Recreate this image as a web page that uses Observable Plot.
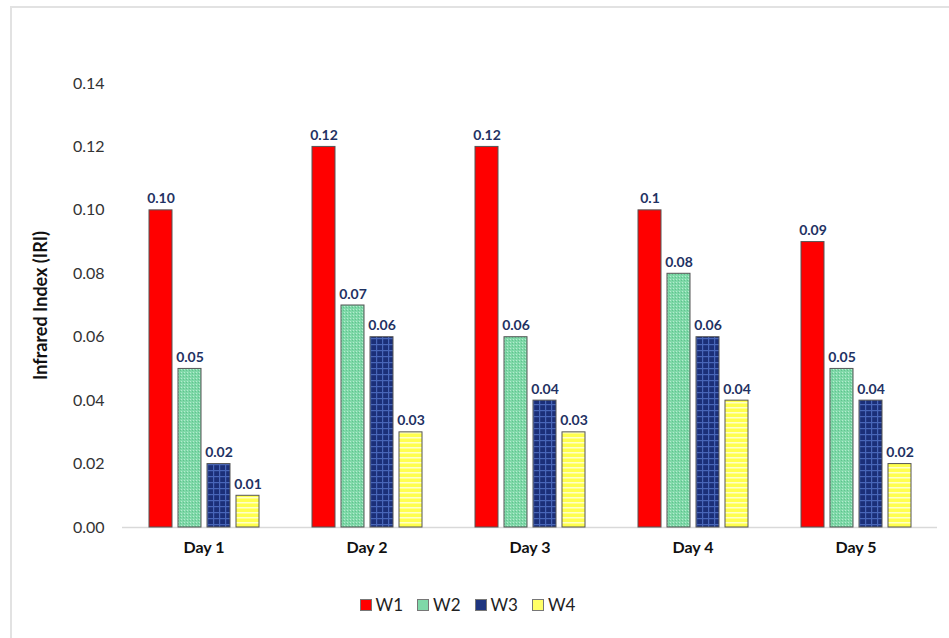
<!DOCTYPE html>
<html>
<head>
<meta charset="utf-8">
<script src="https://cdn.jsdelivr.net/npm/d3@7"></script>
<script src="https://cdn.jsdelivr.net/npm/@observablehq/plot@0.6"></script>
<style>
  html, body { margin: 0; padding: 0; background: #fff; }
  #wrap { position: relative; width: 949px; height: 638px; overflow: hidden; font-family: Lato, "Open Sans", sans-serif; }
  #frame { position: absolute; left: 10px; top: 6px; width: 1000px; height: 700px; border-top: 2px solid #e2e2e2; border-left: 2px solid #e2e2e2; }
  #chart { position: absolute; left: 0; top: 0; }
  #legend { position: absolute; left: 0; width: 935px; top: 594px; display: flex; justify-content: center; gap: 14px; font-size: 17px; color: #222; }
  #legend .item { display: flex; align-items: center; gap: 4px; }
  #legend .sw { width: 10px; height: 10px; border: 1px solid #777; }
</style>
</head>
<body>
<div id="wrap">
  <div id="frame"></div>
  <div id="chart"></div>
  <div id="legend"></div>
</div>
<script>
const days = ["Day 1", "Day 2", "Day 3", "Day 4", "Day 5"];
const seriesNames = ["W1", "W2", "W3", "W4"];
const w1 = [0.10, 0.12, 0.12, 0.10, 0.09];
const w2 = [0.05, 0.07, 0.06, 0.08, 0.05];
const w3 = [0.02, 0.06, 0.04, 0.06, 0.04];
const w4 = [0.01, 0.03, 0.03, 0.04, 0.02];
const w1Labels = ["0.10", "0.12", "0.12", "0.1", "0.09"];
const w2Labels = ["0.05", "0.07", "0.06", "0.08", "0.05"];
const w3Labels = ["0.02", "0.06", "0.04", "0.06", "0.04"];
const w4Labels = ["0.01", "0.03", "0.03", "0.04", "0.02"];
const yTicks = [0, 0.02, 0.04, 0.06, 0.08, 0.10, 0.12, 0.14];
const yLabel = "Infrared Index (IRI)";
const fills = ["#ff0000", "url(#patW2)", "url(#patW3)", "url(#patW4)"];
const swatchColors = ["#ff0000", "#7fd8a8", "#1e3580", "#ffff66"];

const allValues = [w1, w2, w3, w4];
const allLabels = [w1Labels, w2Labels, w3Labels, w4Labels];
const data = [];
days.forEach((d, i) => {
  seriesNames.forEach((s, j) => {
    data.push({day: d, series: s, value: allValues[j][i], label: allLabels[j][i]});
  });
});

const plot = Plot.plot({
  width: 949,
  height: 565,
  marginTop: 83,
  marginBottom: 38,
  marginLeft: 121,
  marginRight: 12,
  style: {fontFamily: "Lato, 'Open Sans', sans-serif", fontSize: "16px", color: "#333", background: "transparent"},
  facet: {data: data, x: "day"},
  fx: {domain: days, padding: 0, axis: "bottom", label: null, tickSize: 0, tickPadding: 14},
  x: {domain: seriesNames, axis: null, paddingInner: 0.22, paddingOuter: 0.87},
  y: {domain: [0, 0.14], ticks: yTicks, tickFormat: d3.format(".2f"), tickSize: 0, tickPadding: 18,
      label: yLabel, labelAnchor: "center", labelOffset: 88},
  color: {domain: seriesNames, range: fills},
  marks: [
    Plot.ruleY([0], {stroke: "#d9d9d9", strokeWidth: 1.5}),
    Plot.barY(data, {x: "series", y: "value", fill: "series", stroke: "#555", strokeWidth: 1}),
    Plot.text(data, {x: "series", y: "value", text: "label", dy: -7, lineAnchor: "bottom",
      fill: "#1f3263", fontWeight: "bold", fontSize: 14})
  ]
});

document.getElementById("chart").appendChild(plot);

const svg = d3.select(plot);
const defs = svg.insert("defs", ":first-child");
// W2: fine textured mint
const p2 = defs.append("pattern").attr("id", "patW2").attr("patternUnits", "userSpaceOnUse").attr("width", 3).attr("height", 3);
p2.append("rect").attr("width", 3).attr("height", 3).attr("fill", "#7fd8a8");
p2.append("rect").attr("x", 0).attr("y", 0).attr("width", 1).attr("height", 1).attr("fill", "#b5ecd0");
p2.append("rect").attr("x", 2).attr("y", 1).attr("width", 1).attr("height", 1).attr("fill", "#5fc48e");
// W3: navy plaid
const p3 = defs.append("pattern").attr("id", "patW3").attr("patternUnits", "userSpaceOnUse").attr("width", 6).attr("height", 6);
p3.append("rect").attr("width", 6).attr("height", 6).attr("fill", "#1b2f78");
p3.append("rect").attr("x", 0).attr("y", 2).attr("width", 6).attr("height", 1.2).attr("fill", "#4866b8");
p3.append("rect").attr("x", 2).attr("y", 0).attr("width", 1.2).attr("height", 6).attr("fill", "#4866b8");
// W4: yellow with light horizontal stripes
const p4 = defs.append("pattern").attr("id", "patW4").attr("patternUnits", "userSpaceOnUse").attr("width", 5).attr("height", 5);
p4.append("rect").attr("width", 5).attr("height", 5).attr("fill", "#ffff4d");
p4.append("rect").attr("x", 0).attr("y", 2).attr("width", 5).attr("height", 1.5).attr("fill", "#ffffc8");

// Style axis texts
svg.selectAll("text").each(function() {
  const t = d3.select(this);
  const s = t.text();
  if (days.includes(s)) {
    t.attr("font-weight", "bold").attr("font-size", 16).attr("fill", "#111");
  } else if (s.indexOf("Infrared") >= 0) {
    t.text(yLabel).attr("font-weight", "bold").attr("font-size", 18).attr("fill", "#111");
  }
});

// Legend
const legend = d3.select("#legend");
seriesNames.forEach((s, i) => {
  const item = legend.append("div").attr("class", "item");
  item.append("div").attr("class", "sw").style("background", swatchColors[i]);
  item.append("span").text(s);
});
</script>
</body>
</html>
